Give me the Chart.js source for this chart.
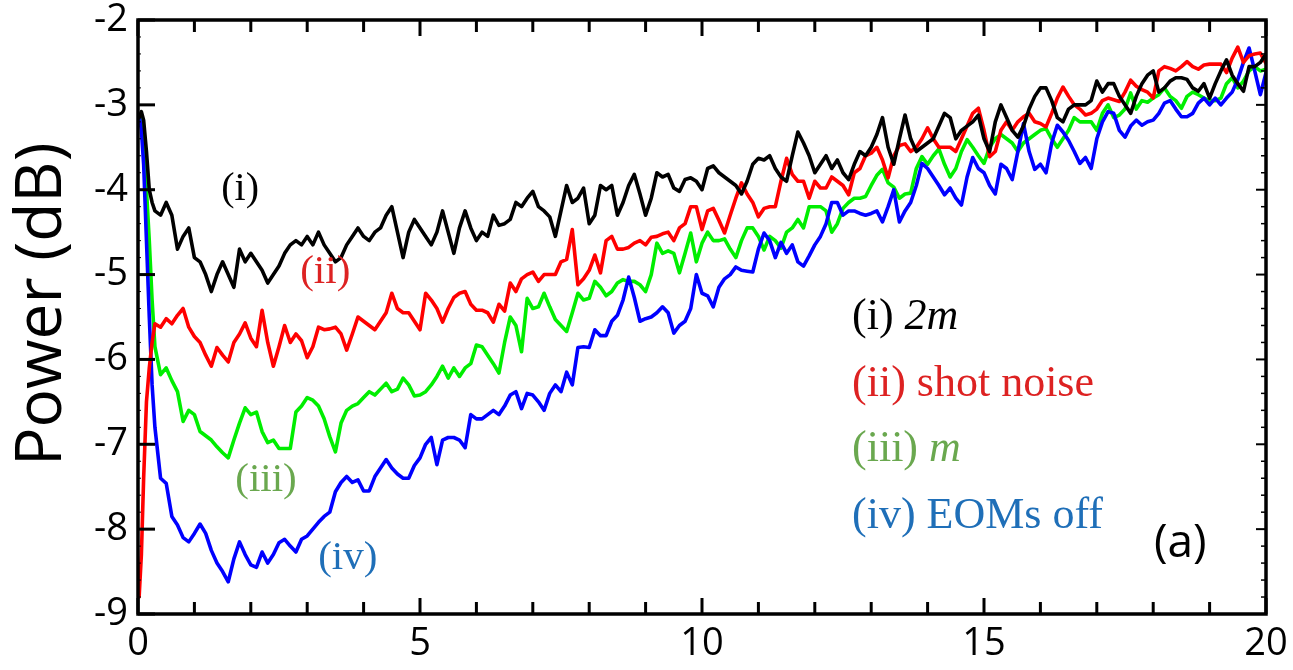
<!DOCTYPE html>
<html><head><meta charset="utf-8">
<script src="https://cdn.jsdelivr.net/npm/chart.js@4.4.0/dist/chart.umd.min.js"></script>
<style>html,body{margin:0;padding:0;background:#fff;} #wrap{width:1293px;height:670px;position:relative;background:#fff;}</style>
</head><body><div id="wrap"><canvas id="c"></canvas></div>
<script>
// ---------- DATA ----------
const frequency = [
0.02,0.06,0.1,0.15,0.2,0.25,
0.3,0.4,0.5,0.6,0.7,0.8,0.9,
1.0,1.1,1.2,1.3,1.4,1.5,1.6,1.7,1.8,1.9,
2.0,2.1,2.2,2.3,2.4,2.5,2.6,2.7,2.8,2.9,
3.0,3.1,3.2,3.3,3.4,3.5,3.6,3.7,3.8,3.9,
4.0,4.1,4.2,4.3,4.4,4.5,4.6,4.7,4.8,4.9,
5.0,5.1,5.2,5.3,5.4,5.5,5.6,5.7,5.8,5.9,
6.0,6.1,6.2,6.3,6.4,6.5,6.6,6.7,6.8,6.9,
7.0,7.1,7.2,7.3,7.4,7.5,7.6,7.7,7.8,7.9,
8.0,8.1,8.2,8.3,8.4,8.5,8.6,8.7,8.8,8.9,
9.0,9.1,9.2,9.3,9.4,9.5,9.6,9.7,9.8,9.9,
10.0,10.1,10.2,10.3,10.4,10.5,10.6,10.7,10.8,10.9,
11.0,11.1,11.2,11.3,11.4,11.5,11.6,11.7,11.8,11.9,
12.0,12.1,12.2,12.3,12.4,12.5,12.6,12.7,12.8,12.9,
13.0,13.1,13.2,13.3,13.4,13.5,13.6,13.7,13.8,13.9,
14.0,14.1,14.2,14.3,14.4,14.5,14.6,14.7,14.8,14.9,
15.0,15.1,15.2,15.3,15.4,15.5,15.6,15.7,15.8,15.9,
16.0,16.1,16.2,16.3,16.4,16.5,16.6,16.7,16.8,16.9,
17.0,17.1,17.2,17.3,17.4,17.5,17.6,17.7,17.8,17.9,
18.0,18.1,18.2,18.3,18.4,18.5,18.6,18.7,18.8,18.9,
19.0,19.1,19.2,19.3,19.4,19.5,19.6,19.7,19.8,19.9,
20.0];

// (i) 2m
const power2m = [
-3.15,-3.08,-3.18,-3.55,-4.0,-4.15,
-4.25,-4.3,-4.15,-4.3,-4.7,-4.55,-4.45,
-4.8,-4.85,-5.0,-5.2,-5.0,-4.85,-5.0,-5.15,-4.7,-4.85,
-4.75,-4.85,-4.95,-5.1,-5.0,-4.9,-4.75,-4.65,-4.6,-4.65,
-4.55,-4.65,-4.5,-4.65,-4.75,-4.85,-4.8,-4.65,-4.55,-4.45,
-4.55,-4.6,-4.5,-4.45,-4.3,-4.2,-4.5,-4.8,-4.5,-4.35,
-4.45,-4.55,-4.65,-4.5,-4.25,-4.5,-4.75,-4.45,-4.25,-4.45,
-4.6,-4.5,-4.55,-4.3,-4.42,-4.4,-4.35,-4.15,-4.2,-4.1,
-4.02,-4.2,-4.25,-4.32,-4.55,-4.25,-3.95,-4.15,-4.1,-3.98,
-4.4,-4.3,-3.95,-4.0,-3.95,-4.3,-4.15,-3.95,-3.82,-4.05,
-4.3,-4.1,-3.8,-3.85,-3.82,-3.98,-4.02,-3.88,-3.86,-3.9,
-4.0,-3.75,-3.72,-3.8,-3.85,-3.9,-3.95,-4.05,-3.9,-3.7,
-3.63,-3.65,-3.6,-3.75,-3.85,-3.9,-3.6,-3.32,-3.45,-3.6,
-3.8,-3.7,-3.6,-3.75,-3.65,-3.8,-3.88,-3.7,-3.55,-3.6,
-3.5,-3.35,-3.15,-3.5,-3.7,-3.4,-3.12,-3.4,-3.55,-3.5,
-3.45,-3.4,-3.25,-3.1,-3.15,-3.4,-3.3,-3.25,-3.2,-3.12,
-3.4,-3.55,-3.2,-3.0,-3.15,-3.3,-3.38,-3.25,-3.05,-2.9,
-2.8,-2.8,-2.95,-3.15,-3.2,-3.05,-3.0,-3.0,-3.0,-2.95,
-2.72,-2.85,-2.75,-2.75,-2.9,-3.0,-3.1,-2.9,-2.75,-2.65,
-2.6,-2.85,-2.8,-2.72,-2.68,-2.68,-2.7,-2.8,-2.84,-2.75,
-2.92,-2.75,-2.6,-2.47,-2.65,-2.75,-2.84,-2.55,-2.55,-2.5,
-2.4];

// (ii) shot noise
const powerShot = [
-8.8,-8.3,-7.4,-6.5,-6.1,-5.8,
-5.58,-5.62,-5.52,-5.58,-5.48,-5.4,-5.62,
-5.73,-5.8,-5.95,-6.08,-5.86,-5.95,-6.03,-5.8,-5.7,-5.57,
-5.75,-5.85,-5.42,-5.8,-6.08,-5.85,-5.6,-5.8,-5.7,-5.78,
-5.98,-5.85,-5.62,-5.65,-5.64,-5.62,-5.7,-5.89,-5.7,-5.5,
-5.55,-5.6,-5.65,-5.55,-5.45,-5.22,-5.4,-5.45,-5.45,-5.55,
-5.65,-5.22,-5.3,-5.4,-5.56,-5.4,-5.27,-5.22,-5.2,-5.35,
-5.42,-5.42,-5.45,-5.56,-5.35,-5.43,-5.1,-5.2,-5.05,-5.0,
-4.97,-5.08,-5.0,-5.0,-5.0,-4.85,-4.82,-4.47,-5.12,-5.05,
-4.95,-4.77,-4.98,-4.6,-4.55,-4.7,-4.7,-4.68,-4.63,-4.6,
-4.65,-4.56,-4.55,-4.52,-4.5,-4.6,-4.45,-4.4,-4.2,-4.2,
-4.47,-4.25,-4.22,-4.36,-4.51,-4.3,-4.1,-3.92,-4.05,-4.15,
-4.32,-4.22,-4.2,-4.2,-3.9,-3.63,-3.82,-3.9,-3.9,-4.1,
-3.9,-3.98,-3.98,-3.85,-3.9,-3.95,-4.06,-3.8,-3.75,-3.6,
-3.57,-3.5,-3.65,-3.86,-3.6,-3.48,-3.46,-3.55,-3.5,-3.4,
-3.27,-3.4,-3.5,-3.5,-3.5,-3.55,-3.4,-3.25,-3.1,-3.04,
-3.3,-3.61,-3.55,-3.3,-3.2,-3.3,-3.2,-3.14,-3.1,-3.2,
-3.22,-3.26,-3.1,-2.92,-2.79,-2.9,-3.0,-3.05,-3.12,-3.1,
-3.05,-2.95,-2.92,-2.94,-2.96,-2.85,-2.71,-2.78,-2.82,-2.85,
-2.92,-2.6,-2.55,-2.57,-2.6,-2.55,-2.49,-2.55,-2.58,-2.53,
-2.52,-2.52,-2.52,-2.62,-2.45,-2.32,-2.5,-2.42,-2.4,-2.39,
-2.51];

// (iii) m
const powerM = [
-3.12,-3.2,-3.45,-4.0,-4.6,-5.3,
-5.85,-6.18,-6.1,-6.25,-6.38,-6.73,-6.6,
-6.65,-6.85,-6.9,-6.95,-7.03,-7.1,-7.16,-6.95,-6.75,-6.57,
-6.65,-6.62,-6.85,-6.98,-6.95,-7.05,-7.05,-7.05,-6.62,-6.55,
-6.45,-6.48,-6.55,-6.7,-6.91,-7.09,-6.75,-6.6,-6.55,-6.52,
-6.45,-6.38,-6.42,-6.35,-6.28,-6.38,-6.35,-6.22,-6.3,-6.43,
-6.42,-6.38,-6.3,-6.2,-6.08,-6.22,-6.1,-6.2,-6.1,-6.05,
-5.83,-5.85,-5.95,-6.05,-6.16,-5.8,-5.5,-5.6,-5.91,-5.28,
-5.4,-5.38,-5.22,-5.38,-5.53,-5.6,-5.67,-5.45,-5.22,-5.3,
-5.28,-5.08,-5.15,-5.25,-5.2,-5.1,-5.06,-5.08,-5.08,-5.12,
-5.2,-5.0,-4.63,-4.75,-4.72,-4.75,-4.98,-4.75,-4.51,-4.85,
-4.63,-4.5,-4.6,-4.6,-4.58,-4.7,-4.8,-4.6,-4.45,-4.45,
-4.55,-4.71,-4.55,-4.6,-4.69,-4.5,-4.45,-4.35,-4.45,-4.2,
-4.2,-4.2,-4.25,-4.5,-4.4,-4.22,-4.15,-4.1,-4.1,-4.08,
-3.95,-3.83,-3.76,-3.92,-3.97,-4.1,-4.05,-4.04,-3.75,-3.61,
-3.7,-3.6,-3.52,-3.7,-3.85,-3.75,-3.55,-3.41,-3.5,-3.6,
-3.69,-3.5,-3.4,-3.35,-3.4,-3.45,-3.55,-3.45,-3.4,-3.35,
-3.3,-3.28,-3.4,-3.5,-3.4,-3.3,-3.15,-3.2,-3.2,-3.2,
-3.3,-3.1,-3.0,-3.15,-3.12,-3.05,-2.86,-3.05,-2.95,-2.97,
-2.92,-2.88,-2.8,-2.9,-2.95,-3.04,-2.9,-2.85,-2.88,-2.92,
-2.95,-2.95,-2.92,-2.75,-2.68,-2.8,-2.72,-2.6,-2.55,-2.6,
-2.58];

// (iv) EOMs off
const powerEomOff = [
-3.12,-3.3,-3.7,-4.6,-5.5,-6.3,
-6.8,-7.4,-7.46,-7.85,-7.95,-8.1,-8.15,
-8.05,-7.94,-8.05,-8.25,-8.4,-8.5,-8.62,-8.35,-8.15,-8.3,
-8.42,-8.45,-8.27,-8.4,-8.3,-8.16,-8.12,-8.2,-8.27,-8.12,
-8.08,-8.0,-7.92,-7.85,-7.8,-7.56,-7.45,-7.38,-7.45,-7.42,
-7.55,-7.55,-7.38,-7.28,-7.18,-7.28,-7.35,-7.4,-7.4,-7.25,
-7.16,-7.0,-6.92,-7.24,-6.95,-6.92,-6.92,-6.95,-7.04,-6.65,
-6.7,-6.7,-6.65,-6.6,-6.65,-6.55,-6.42,-6.38,-6.58,-6.4,
-6.42,-6.5,-6.6,-6.4,-6.3,-6.38,-6.15,-6.3,-5.86,-5.85,
-5.86,-5.65,-5.72,-5.72,-5.55,-5.48,-5.3,-5.03,-5.27,-5.55,
-5.52,-5.5,-5.45,-5.38,-5.45,-5.69,-5.6,-5.55,-5.4,-5.0,
-5.22,-5.25,-5.38,-5.15,-5.05,-5.0,-4.91,-4.95,-4.96,-4.97,
-4.7,-4.51,-4.6,-4.8,-4.62,-4.75,-4.65,-4.85,-4.9,-4.78,
-4.65,-4.55,-4.4,-4.15,-4.15,-4.3,-4.25,-4.25,-4.28,-4.3,
-4.28,-4.25,-4.38,-4.2,-4.0,-4.38,-4.25,-4.15,-3.95,-3.69,
-3.75,-3.85,-3.95,-4.06,-3.98,-4.1,-4.18,-3.85,-3.62,-3.75,
-3.8,-3.95,-4.05,-3.7,-3.75,-3.88,-3.55,-3.22,-3.55,-3.76,
-3.7,-3.8,-3.45,-3.24,-3.32,-3.42,-3.55,-3.69,-3.62,-3.75,
-3.4,-3.2,-3.08,-3.1,-3.3,-3.38,-3.25,-3.18,-3.24,-3.2,
-3.18,-3.1,-2.98,-2.95,-3.05,-3.14,-3.14,-3.1,-2.98,-2.92,
-3.0,-2.92,-3.0,-2.92,-2.85,-2.7,-2.5,-2.33,-2.6,-2.88,
-2.62];

const xTickLabels = [0, 5, 10, 15, 20];
const yTickLabels = [-2, -3, -4, -5, -6, -7, -8, -9];
const seriesNames = ['(i) 2m', '(ii) shot noise', '(iii) m', '(iv) EOMs off'];
const yAxisTitle = 'Power (dB)';

// ---------- sanity check ----------
[power2m, powerShot, powerM, powerEomOff].forEach((s, i) => {
  if (s.length !== frequency.length) throw new Error('length mismatch series ' + i + ': ' + s.length + ' vs ' + frequency.length);
});

const pts = ys => frequency.map((x, i) => ({x: x, y: ys[i]}));

const SANS = "'Open Sans', 'Liberation Sans', sans-serif";
const SERIF = "'Liberation Serif', 'DejaVu Serif', serif";

// ---------- styling / text layout (not data) ----------
const textLabels = [
  {parts:[{t:'(i)'}], x:1.81, y:-4.0, color:'#000000', size:40, align:'center'},
  {parts:[{t:'(ii)'}], x:3.32, y:-4.97, color:'#dd2222', size:41, align:'center'},
  {parts:[{t:'(iii)'}], x:2.27, y:-7.42, color:'#6aa84f', size:41, align:'center'},
  {parts:[{t:'(iv)'}], x:3.72, y:-8.34, color:'#1f6fb8', size:41, align:'center'},
  {parts:[{t:'(i) '},{t:'2m',italic:true}], x:12.66, y:-5.51, color:'#000000', size:44, align:'left'},
  {parts:[{t:'(ii) shot noise'}], x:12.66, y:-6.30, color:'#dd2222', size:44, align:'left'},
  {parts:[{t:'(iii) '},{t:'m',italic:true}], x:12.66, y:-7.06, color:'#6aa84f', size:44, align:'left'},
  {parts:[{t:'(iv) EOMs off'}], x:12.66, y:-7.85, color:'#1f6fb8', size:44, align:'left'}
];

const framePlugin = {
  id: 'frameTicks',
  afterDatasetsDraw(chart) {
    const {ctx, chartArea: a, scales: {x, y}} = chart;
    ctx.save();
    ctx.strokeStyle = '#000';
    ctx.lineCap = 'butt';
    const seg = (x1, y1, x2, y2, w) => { ctx.lineWidth = w; ctx.beginPath(); ctx.moveTo(x1, y1); ctx.lineTo(x2, y2); ctx.stroke(); };
    for (let v = x.min; v <= x.max; v += 1) {
      const px = x.getPixelForValue(v);
      const len = (v % 5 === 0) ? 16 : 12;
      seg(px, a.bottom, px, a.bottom - len, 3);
      seg(px, a.top, px, a.top + len, 3);
    }
    for (let k = 0; k <= 35; k++) {
      const v = y.min + k * 0.2;
      const py = y.getPixelForValue(v);
      const major = (k % 5 === 0);
      if (major) {
        seg(a.left, py, a.left + 17, py, 3);
        seg(a.right, py, a.right - 10, py, 2);
      } else {
        seg(a.left, py, a.left + 3, py, 1);
        seg(a.right, py, a.right - 5, py, 1.5);
      }
    }
    ctx.lineWidth = 3.5;
    ctx.strokeRect(a.left, a.top, a.right - a.left, a.bottom - a.top);
    ctx.restore();
  },
  afterDraw(chart) {
    const {ctx, scales: {x, y}} = chart;
    ctx.save();
    // y-axis title
    ctx.save();
    ctx.translate(43, y.getPixelForValue(-5.35));
    ctx.rotate(-Math.PI / 2);
    ctx.font = '64px ' + SANS;
    ctx.fillStyle = '#000';
    ctx.textAlign = 'center';
    ctx.textBaseline = 'middle';
    ctx.fillText(yAxisTitle, 0, 0);
    ctx.restore();

    ctx.textBaseline = 'middle';
    textLabels.forEach(l => {
      let total = 0;
      l.parts.forEach(p => { ctx.font = (p.italic ? 'italic ' : '') + l.size + 'px ' + SERIF; total += ctx.measureText(p.t).width; });
      let cx = x.getPixelForValue(l.x) - (l.align === 'center' ? total / 2 : 0);
      const cy = y.getPixelForValue(l.y);
      ctx.fillStyle = l.color;
      ctx.textAlign = 'left';
      l.parts.forEach(p => {
        ctx.font = (p.italic ? 'italic ' : '') + l.size + 'px ' + SERIF;
        ctx.fillText(p.t, cx, cy);
        cx += ctx.measureText(p.t).width;
      });
    });
    ctx.font = '46px ' + SANS;
    ctx.fillStyle = '#000';
    ctx.textAlign = 'center';
    ctx.fillText('(a)', x.getPixelForValue(18.48), y.getPixelForValue(-8.17));
    ctx.restore();
  }
};

const whiteBg = {
  id: 'whiteBg',
  beforeDraw(chart) { const c = chart.ctx; c.save(); c.fillStyle = '#fff'; c.fillRect(0, 0, chart.width, chart.height); c.restore(); }
};

const mk = (label, data, color, order) => ({
  label, data: pts(data), borderColor: color, backgroundColor: color,
  borderWidth: 3.6, pointRadius: 0, tension: 0, fill: false, order,
  borderJoinStyle: 'round', borderCapStyle: 'round'
});

new Chart(document.getElementById('c'), {
  type: 'line',
  data: {
    datasets: [
      mk(seriesNames[0], power2m, '#000000', 1),
      mk(seriesNames[1], powerShot, '#ff0000', 2),
      mk(seriesNames[3], powerEomOff, '#0000ff', 3),
      mk(seriesNames[2], powerM, '#00ee00', 4)
    ]
  },
  options: {
    responsive: true,
    maintainAspectRatio: false,
    animation: false,
    layout: { padding: { top: 20, right: 27, left: 0, bottom: 0 } },
    plugins: { legend: { display: false }, tooltip: { enabled: false } },
    scales: {
      x: {
        type: 'linear', min: 0, max: 20,
        afterFit(s) { s.height = 56; s.paddingLeft = 0; s.paddingRight = 0; },
        afterBuildTicks(s) { s.ticks = xTickLabels.map(v => ({value: v})); },
        ticks: { font: { family: SANS, size: 38 }, color: '#000', padding: 7, maxRotation: 0, autoSkip: false },
        grid: { display: false, drawTicks: false },
        border: { display: false }
      },
      y: {
        type: 'linear', min: -9, max: -2,
        afterFit(s) { s.width = 138; s.paddingTop = 0; s.paddingBottom = 0; },
        afterBuildTicks(s) { s.ticks = yTickLabels.map(v => ({value: v})); },
        ticks: { font: { family: SANS, size: 38 }, color: '#000', padding: 10, autoSkip: false },
        grid: { display: false, drawTicks: false },
        border: { display: false }
      }
    }
  },
  plugins: [whiteBg, framePlugin]
});
</script></body></html>
